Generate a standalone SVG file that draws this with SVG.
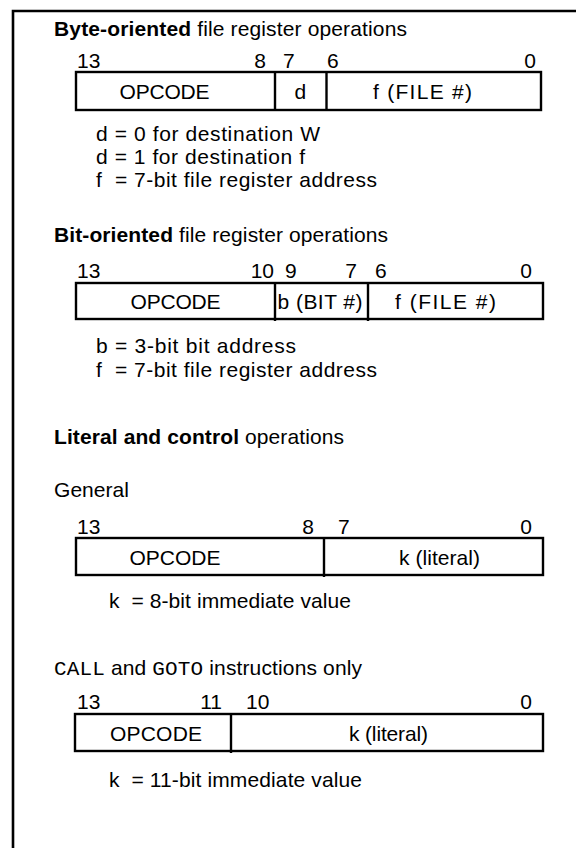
<svg xmlns="http://www.w3.org/2000/svg" width="576" height="848" viewBox="0 0 576 848">
<style>
text{font-family:"Liberation Sans",Arial,sans-serif;font-size:21px;fill:#000}
.b{font-weight:bold}
.m{font-family:"Liberation Mono","Courier New",monospace;font-size:21px}
.e{text-anchor:end}
.box{fill:#fff;stroke:#000;stroke-width:2.4}
.div{stroke:#000;stroke-width:2.4}
.frame{fill:none;stroke:#000;stroke-width:2.6}
</style>
<rect width="576" height="848" fill="#fff"/>
<path class="frame" d="M13,848 V11 H576"/>
<g id="byte-oriented">
<text x="54" y="36" textLength="353"><tspan class="b">Byte-oriented</tspan> file register operations</text>
<text x="77" y="68">13</text>
<text x="266" y="68" class="e">8</text>
<text x="283" y="68">7</text>
<text x="327" y="68">6</text>
<text x="536" y="68" class="e">0</text>
<rect class="box" x="76" y="72" width="465" height="38"/>
<line class="div" x1="275" y1="72" x2="275" y2="110"/>
<line class="div" x1="326.5" y1="72" x2="326.5" y2="110"/>
<text x="119.5" y="99" textLength="90">OPCODE</text>
<text x="294.5" y="99">d</text>
<text x="373" y="99" textLength="99">f (FILE #)</text>
<text x="96" y="141" textLength="224">d = 0 for destination W</text>
<text x="96" y="164" textLength="209">d = 1 for destination f</text>
<text x="96" y="187" textLength="281" xml:space="preserve">f  = 7-bit file register address</text>
</g>
<g id="bit-oriented">
<text x="54" y="242" textLength="334"><tspan class="b">Bit-oriented</tspan> file register operations</text>
<text x="77" y="278">13</text>
<text x="274" y="278" class="e">10</text>
<text x="285" y="278">9</text>
<text x="357" y="278" class="e">7</text>
<text x="375" y="278">6</text>
<text x="532" y="278" class="e">0</text>
<rect class="box" x="76" y="283" width="467" height="36"/>
<line class="div" x1="275" y1="283" x2="275" y2="321"/>
<line class="div" x1="368" y1="283" x2="368" y2="321"/>
<text x="130.5" y="309" textLength="90">OPCODE</text>
<text x="277.5" y="309" textLength="85">b (BIT #)</text>
<text x="395" y="309" textLength="101">f (FILE #)</text>
<text x="96" y="353" textLength="200">b = 3-bit bit address</text>
<text x="96" y="377" textLength="281" xml:space="preserve">f  = 7-bit file register address</text>
</g>
<g id="literal-general">
<text x="54" y="444" textLength="290"><tspan class="b">Literal and control</tspan> operations</text>
<text x="54" y="497" textLength="75">General</text>
<text x="77" y="534">13</text>
<text x="314" y="534" class="e">8</text>
<text x="338" y="534">7</text>
<text x="532" y="534" class="e">0</text>
<rect class="box" x="76" y="538" width="467" height="37"/>
<line class="div" x1="324" y1="538" x2="324" y2="577"/>
<text x="129.5" y="565" textLength="91">OPCODE</text>
<text x="399" y="565" textLength="81">k (literal)</text>
<text x="109" y="608" textLength="242" xml:space="preserve">k  = 8-bit immediate value</text>
</g>
<g id="call-goto">
<text x="54" y="675" textLength="308"><tspan class="m">CALL</tspan> and <tspan class="m">GOTO</tspan> instructions only</text>
<text x="77" y="709">13</text>
<text x="222" y="709" class="e">11</text>
<text x="246" y="709">10</text>
<text x="532" y="709" class="e">0</text>
<rect class="box" x="75" y="714" width="468" height="37"/>
<line class="div" x1="231" y1="714" x2="231" y2="753"/>
<text x="110" y="741" textLength="92">OPCODE</text>
<text x="349" y="741" textLength="79">k (literal)</text>
<text x="109" y="787" textLength="253" xml:space="preserve">k  = 11-bit immediate value</text>
</g>
</svg>
